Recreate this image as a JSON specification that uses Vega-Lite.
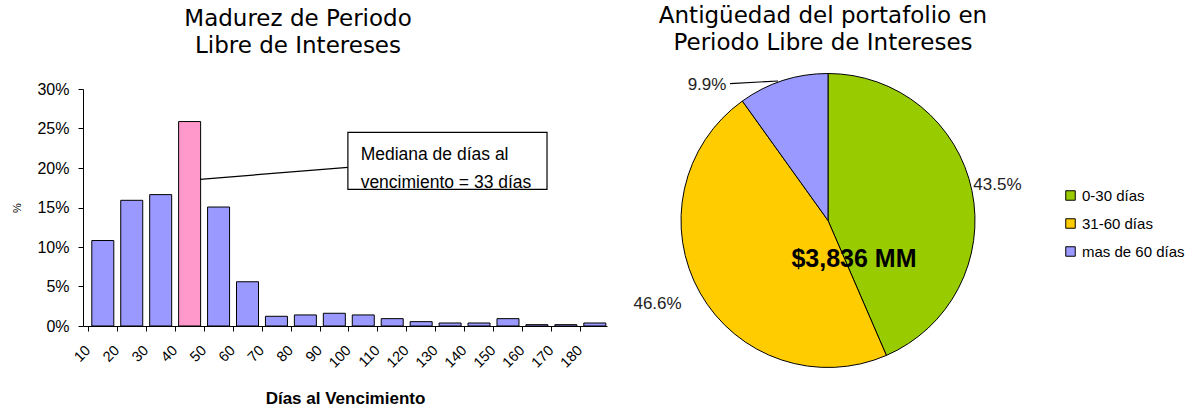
{
  "$schema": "https://vega.github.io/schema/vega-lite/v6.json",
  "background": "white",
  "padding": {"left": 11, "top": 4, "right": 5, "bottom": 2},
  "spacing": 26,
  "config": {
    "view": {"stroke": null},
    "font": "Liberation Sans",
    "title": {"font": "DejaVu Sans", "fontSize": 23, "fontWeight": "normal", "color": "#000", "lineHeight": 27, "anchor": "middle", "frame": "group"}
  },
  "hconcat": [
    {
      "title": {"text": ["Madurez de Periodo", "Libre de Intereses"], "dx": -47, "offset": 23},
      "width": 524,
      "height": 237,
      "layer": [
        {
          "data": {"values": [
            {"dias": 10, "pct": 0.1082},
            {"dias": 20, "pct": 0.1591},
            {"dias": 30, "pct": 0.1663},
            {"dias": 40, "pct": 0.2588},
            {"dias": 50, "pct": 0.1506},
            {"dias": 60, "pct": 0.056},
            {"dias": 70, "pct": 0.0123},
            {"dias": 80, "pct": 0.014},
            {"dias": 90, "pct": 0.0161},
            {"dias": 100, "pct": 0.014},
            {"dias": 110, "pct": 0.0093},
            {"dias": 120, "pct": 0.0055},
            {"dias": 130, "pct": 0.0038},
            {"dias": 140, "pct": 0.0038},
            {"dias": 150, "pct": 0.0093},
            {"dias": 160, "pct": 0.0017},
            {"dias": 170, "pct": 0.0017},
            {"dias": 180, "pct": 0.0038}
          ]},
          "mark": {"type": "bar", "width": 22, "xOffset": 14.8, "stroke": "black", "strokeWidth": 1, "clip": true},
          "encoding": {
            "x": {
              "field": "dias", "type": "quantitative",
              "scale": {"domain": [10, 187.6], "nice": false, "zero": false},
              "title": "Días al Vencimiento",
              "axis": {
                "values": [10, 20, 30, 40, 50, 60, 70, 80, 90, 100, 110, 120, 130, 140, 150, 160, 170, 180],
                "tickCount": 30,
                "labelAngle": -45, "labelAlign": "right", "labelBaseline": "middle",
                "labelFontSize": 14.5, "labelColor": "#000", "labelPadding": 17,
                "tickSize": 5, "tickColor": "black", "domainColor": "black", "grid": false,
                "labelOverlap": false, "labelFlush": false, "labelBound": false,
                "titleFontSize": 17, "titleFontWeight": "bold", "titleColor": "#000", "titlePadding": 21
              }
            },
            "y": {
              "field": "pct", "type": "quantitative",
              "scale": {"domain": [0, 0.3], "nice": false},
              "title": "%",
              "axis": {
                "values": [0, 0.05, 0.1, 0.15, 0.2, 0.25, 0.3], "format": ".0%",
                "tickCount": 10, "labelOverlap": false,
                "labelFontSize": 16, "labelColor": "#000", "labelPadding": 9,
                "tickSize": 5, "tickColor": "black", "domainColor": "black", "grid": false,
                "titleFontSize": 11, "titleFontWeight": "normal", "titleColor": "#000", "titlePadding": 14
              }
            },
            "color": {"condition": {"test": "datum.dias == 40", "value": "#FF99CC"}, "value": "#9999FF"}
          }
        },
        {
          "data": {"values": [{"nota": "mediana"}]},
          "mark": {"type": "rule", "color": "black", "strokeWidth": 1.2},
          "encoding": {"x": {"datum": 48.7}, "y": {"datum": 0.1857}, "x2": {"datum": 99.8}, "y2": {"datum": 0.2008}}
        },
        {
          "data": {"values": [{"nota": "mediana"}]},
          "mark": {"type": "rect", "fill": "white", "stroke": "black", "strokeWidth": 1.2},
          "encoding": {"x": {"datum": 99.8}, "x2": {"datum": 168.6}, "y": {"datum": 0.245}, "y2": {"datum": 0.173}}
        },
        {
          "data": {"values": [{"nota": "mediana"}]},
          "mark": {"type": "text", "align": "left", "baseline": "alphabetic", "fontSize": 17.5, "lineHeight": 28, "color": "#000",
                   "text": ["Mediana de días al", "vencimiento = 33 días"]},
          "encoding": {"x": {"datum": 104.2}, "y": {"datum": 0.2101}}
        }
      ]
    },
    {
      "title": {"text": ["Antigüedad del portafolio en", "Periodo Libre de Intereses"], "dx": -5, "offset": 17},
      "width": 300,
      "height": 263,
      "data": {"values": [
        {"cat": "0-30 días", "share": 0.435},
        {"cat": "31-60 días", "share": 0.466},
        {"cat": "mas de 60 días", "share": 0.099}
      ]},
      "layer": [
        {
          "mark": {"type": "arc", "radius": 147, "stroke": "black", "strokeWidth": 1},
          "encoding": {
            "theta": {"field": "share", "type": "quantitative", "stack": true},
            "order": {"field": "cat", "type": "nominal", "sort": "ascending"},
            "color": {
              "field": "cat", "type": "nominal",
              "scale": {"domain": ["0-30 días", "31-60 días", "mas de 60 días"], "range": ["#99CC00", "#FFCC00", "#9999FF"]},
              "legend": {
                "title": null, "orient": "none", "legendX": 980, "legendY": 99,
                "symbolType": "square", "symbolSize": 90, "symbolStrokeColor": "black", "symbolStrokeWidth": 1,
                "labelFontSize": 15, "labelColor": "#000", "rowPadding": 12, "labelOffset": 4
              }
            }
          }
        },
        {
          "transform": [{"filter": "datum.cat == '0-30 días'"}],
          "mark": {"type": "text", "radius": 173, "fontSize": 17, "color": "#222"},
          "encoding": {
            "theta": {"field": "share", "type": "quantitative", "stack": true},
            "text": {"field": "share", "type": "quantitative", "format": ".1%"}
          }
        },
        {
          "transform": [{"filter": "datum.cat == '31-60 días'"}],
          "mark": {"type": "text", "radius": 190, "thetaOffset": 2.791, "fontSize": 17, "color": "#222"},
          "encoding": {
            "theta": {"field": "share", "type": "quantitative", "stack": true},
            "text": {"field": "share", "type": "quantitative", "format": ".1%"}
          }
        },
        {
          "transform": [{"filter": "datum.cat == 'mas de 60 días'"}],
          "mark": {"type": "text", "radius": 182, "thetaOffset": -1.038, "fontSize": 17, "color": "#222"},
          "encoding": {
            "theta": {"field": "share", "type": "quantitative", "stack": true},
            "text": {"field": "share", "type": "quantitative", "format": ".1%"}
          }
        },
        {
          "data": {"values": [{"total": "$3,836 MM"}]},
          "mark": {"type": "text", "fontSize": 25, "fontWeight": "bold", "color": "#000"},
          "encoding": {
            "x": {"datum": 0.173, "type": "quantitative", "scale": {"domain": [-1, 1], "nice": false, "zero": false}, "axis": null},
            "y": {"datum": -0.26, "type": "quantitative", "scale": {"domain": [-0.8767, 0.8767], "nice": false, "zero": false}, "axis": null},
            "text": {"field": "total"}
          }
        },
        {
          "data": {"values": [{"total": "$3,836 MM"}]},
          "mark": {"type": "rule", "color": "black", "strokeWidth": 1.2},
          "encoding": {
            "x": {"datum": -0.653, "type": "quantitative", "axis": null},
            "y": {"datum": 0.913, "type": "quantitative", "axis": null},
            "x2": {"datum": -0.333},
            "y2": {"datum": 0.93}
          }
        }
      ]
    }
  ]
}
